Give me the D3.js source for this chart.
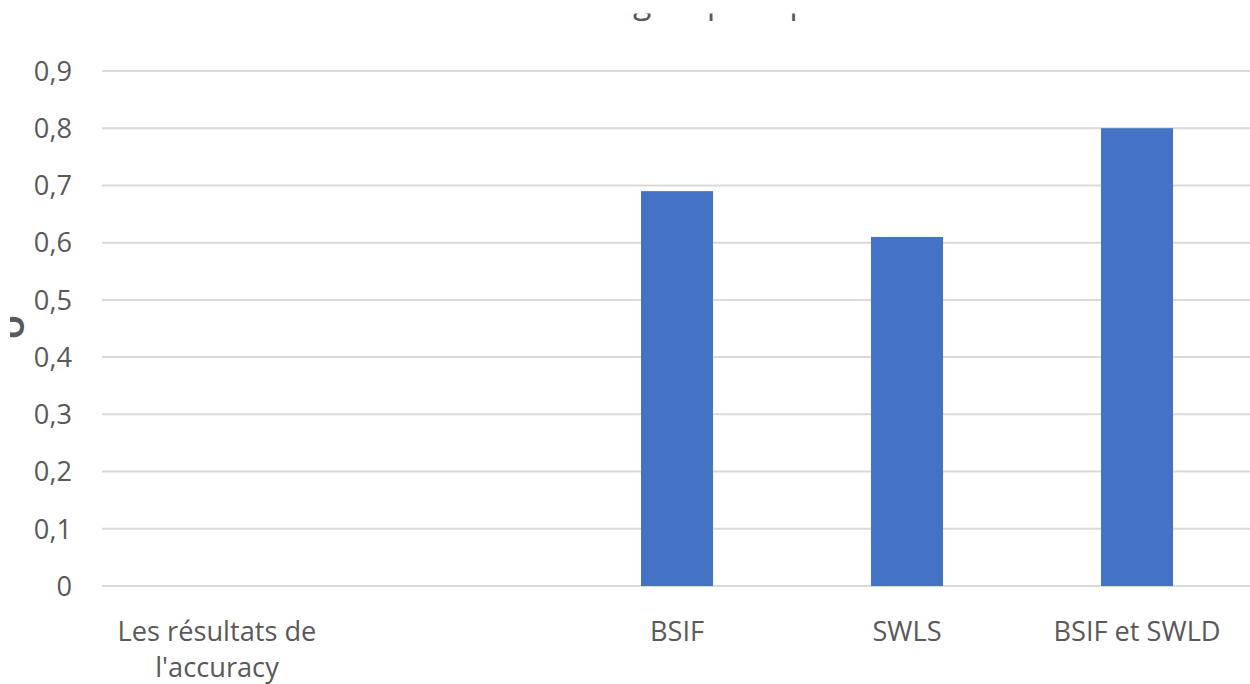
<!DOCTYPE html>
<html><head><meta charset="utf-8">
<script src="https://cdn.jsdelivr.net/npm/d3@7"></script>
<style>body{margin:0;background:#fff}svg{display:block}text{font-family:"Open Sans","Noto Sans",sans-serif}</style>
</head><body>
<svg id="c" width="1250" height="684"></svg>
<script>
const categories = ["Les résultats de l'accuracy", " ", "BSIF", "SWLS", "BSIF et SWLD"];
const values = [null, null, 0.69, 0.61, 0.80];
const yTicks = [0, 0.1, 0.2, 0.3, 0.4, 0.5, 0.6, 0.7, 0.8, 0.9];
const titleText = "Résultats groupés : précision";
const yTitle = "O";

const svg = d3.select("#c");
const m = {left: 102, right: 1252, top: 71, bottom: 586};
const x = d3.scaleBand().domain(categories).range([m.left, m.right]).padding(0);
const y = d3.scaleLinear().domain([0, 0.9]).range([m.bottom, m.top]);
const fmt = d => d3.format(".1f")(d).replace(".", ",");
const FS = 27.2;

const defs = svg.append("defs");
defs.append("clipPath").attr("id", "clipT").append("rect").attr("x", 0).attr("y", 13.5).attr("width", 1250).attr("height", 20);
defs.append("clipPath").attr("id", "clipY").append("rect").attr("x", 10).attr("y", 0).attr("width", 30).attr("height", 684);

// gridlines
svg.append("g").selectAll("line").data(yTicks).join("line")
  .attr("x1", m.left).attr("x2", m.right)
  .attr("y1", d => y(d)).attr("y2", d => y(d))
  .attr("stroke", "#d9d9d9").attr("stroke-width", 2);

// y labels
svg.append("g").selectAll("text").data(yTicks).join("text")
  .attr("x", 72).attr("y", d => y(d)).attr("dy", "0.36em")
  .attr("text-anchor", "end").attr("fill", "#595959").attr("font-size", FS)
  .text(d => d === 0 ? "0" : fmt(d));

// bars
const bw = x.bandwidth() * 0.313;
svg.append("g").selectAll("rect").data(categories.map((c, i) => ({c, v: values[i]})).filter(d => d.v != null)).join("rect")
  .attr("x", d => x(d.c) + x.bandwidth() / 2 - bw / 2)
  .attr("width", bw)
  .attr("y", d => y(d.v))
  .attr("height", d => y(0) - y(d.v))
  .attr("fill", "#4472c4");

// category labels with wrapping
const lab = svg.append("g");
categories.forEach(c => {
  const cx = x(c) + x.bandwidth() / 2;
  const t = lab.append("text").attr("x", cx).attr("y", 641)
    .attr("text-anchor", "middle").attr("fill", "#595959").attr("font-size", FS);
  const words = c.split(" ");
  let line = [], lineNo = 0;
  let ts = t.append("tspan").attr("x", cx).attr("y", 641);
  words.forEach(w => {
    line.push(w);
    ts.text(line.join(" "));
    if (ts.node().getComputedTextLength() > 215 && line.length > 1) {
      line.pop(); ts.text(line.join(" "));
      line = [w]; lineNo++;
      ts = t.append("tspan").attr("x", cx).attr("y", 641 + lineNo * 36).text(w);
    }
  });
});

// title (mostly cropped, as in the reference)
const tt = svg.append("g").attr("clip-path", "url(#clipT)").append("text")
  .attr("x", 0).attr("y", 13).attr("fill", "#595959").attr("font-size", 34).text(titleText);
const gx = tt.node().getStartPositionOfChar(titleText.indexOf("g")).x;
tt.attr("x", 633 - gx);

// y axis title (cropped)
svg.append("g").attr("clip-path", "url(#clipY)").append("text")
  .attr("transform", "translate(24,327) rotate(-90)")
  .attr("text-anchor", "middle").attr("fill", "#595959").attr("font-size", 30).attr("font-weight", "bold").text(yTitle);
</script>
</body></html>
